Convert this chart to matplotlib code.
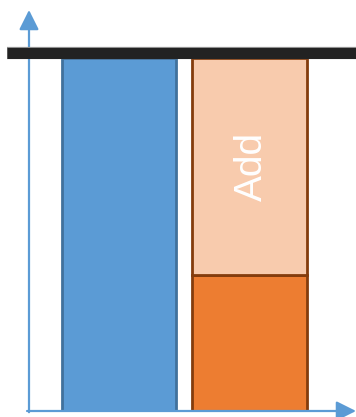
import matplotlib
matplotlib.use('Agg')
import matplotlib.pyplot as plt
import matplotlib.patheffects as pe

# bar data (relative heights, 1.0 = the black limit line)
positions = [0, 1]
blue_vals = [1.0]
base_vals = [0.385]
add_vals = [0.615]
limit = 1.013
add_label = 'Add'

W, H = 356, 417
fig = plt.figure(figsize=(W / 100, H / 100), dpi=100)
# axes from the y-axis line (x=29px) to the right edge, x-axis (y=411px) to arrow tip
ax = fig.add_axes([29 / W, 6 / H, 327 / W, 401 / H])
ax.set_xlim(-0.69, 1.816)
ax.set_ylim(0, 1.136)
ax.axis('off')

ax.bar(positions[0], blue_vals[0], width=0.874, color='#5b9bd5',
       edgecolor='#41719c', linewidth=2, zorder=2)
ax.bar(positions[1], base_vals[0], width=0.88, color='#ed7d31',
       edgecolor='#843c0c', linewidth=2, zorder=2)
ax.bar(positions[1], add_vals[0], bottom=base_vals[0], width=0.88,
       color='#f8cbad', edgecolor='#843c0c', linewidth=2, zorder=2)

ax.text(positions[1] + 0.02, base_vals[0] + add_vals[0] / 2, add_label, rotation=90,
        ha='center', va='center', color='white', fontsize=28,
        family='Liberation Sans', zorder=4)

# black limit line
ax.axhline(limit, xmin=-22 / 327, xmax=1, color='#222222', lw=7.9,
           clip_on=False, zorder=5, solid_capstyle='butt',
           path_effects=[pe.Stroke(linewidth=8.8, foreground='#909090',
                                   capstyle='butt'), pe.Normal()])

# axis arrows
arrow = dict(arrowstyle='-|>', color='#5b9bd5', lw=1.6, mutation_scale=30,
             shrinkA=0, shrinkB=0)
ax.annotate('', xy=(0, 1), xytext=(0, -0.003), xycoords='axes fraction',
            arrowprops=arrow, annotation_clip=False)
ax.annotate('', xy=(1.0, 0), xytext=(-0.006, 0), xycoords='axes fraction',
            arrowprops=arrow, annotation_clip=False)

fig.savefig('out.png', dpi=100)
